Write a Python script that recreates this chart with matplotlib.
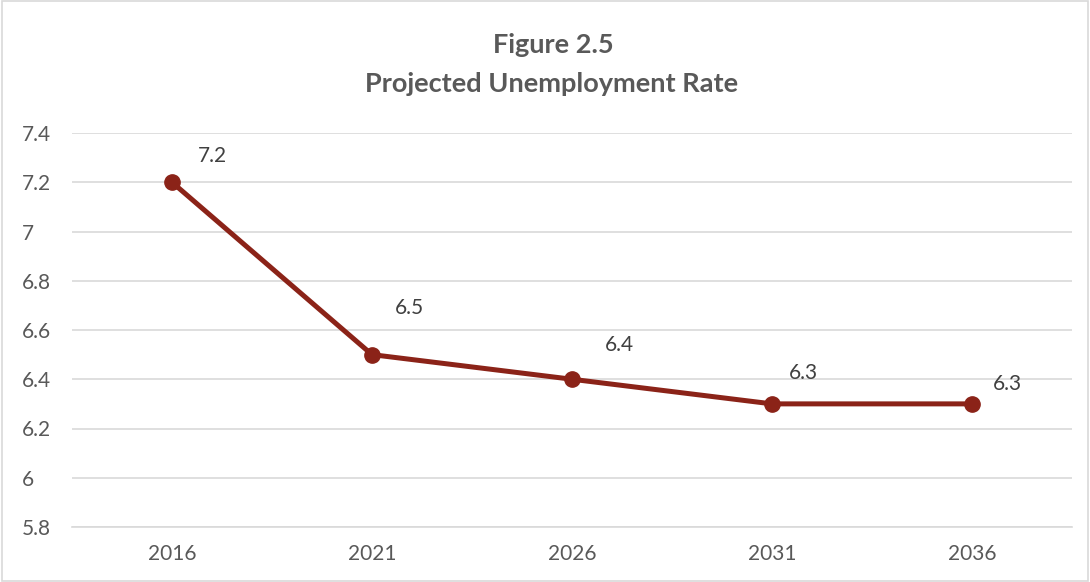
import matplotlib
matplotlib.use("Agg")
import matplotlib.pyplot as plt
from matplotlib.patches import Rectangle

years = ["2016", "2021", "2026", "2031", "2036"]
rates = [7.2, 6.5, 6.4, 6.3, 6.3]
y_ticks = [5.8, 6.0, 6.2, 6.4, 6.6, 6.8, 7.0, 7.2, 7.4]
y_tick_labels = ["5.8", "6", "6.2", "6.4", "6.6", "6.8", "7", "7.2", "7.4"]
title_lines = ["Figure 2.5", "Projected Unemployment Rate"]

# label offsets in pixels (layout only)
label_offsets = [(40, 26), (37, 47), (47, 34), (31, 31), (35, 20)]

plt.rcParams['font.family'] = ['Lato', 'DejaVu Sans']
text_color = "#595959"
line_color = "#8B2318"
grid_color = "#D9D9D9"

fig = plt.figure(figsize=(10.9, 5.82), dpi=100)
ax = fig.add_axes([72/1090, 1-527/582, 1000/1090, (527-133)/582])

x = list(range(len(years)))
ax.plot(x, rates, color=line_color, linewidth=3.6, marker='o', markersize=11,
        solid_capstyle='round', zorder=3)

for xi, v, (dx, dy) in zip(x, rates, label_offsets):
    ax.annotate(f"{v}", (xi, v), xytext=(dx*0.72, dy*0.72), textcoords='offset points',
                ha='center', va='center', fontsize=15, color="#404040")

ax.set_xlim(-0.5, len(years)-0.5)
ax.set_ylim(5.8, 7.4)
ax.set_yticks(y_ticks)
ax.set_yticklabels(y_tick_labels)
ax.set_xticks(x)
ax.set_xticklabels(years)
ax.tick_params(axis='both', length=0, labelsize=15, labelcolor=text_color)
ax.tick_params(axis='x', pad=12)
for lab in ax.get_yticklabels():
    lab.set_horizontalalignment('left')
ax.tick_params(axis='y', pad=36)

ax.grid(axis='y', color=grid_color, linewidth=1.2)
ax.set_axisbelow(True)
for s in ['top', 'right', 'left']:
    ax.spines[s].set_visible(False)
ax.spines['bottom'].set_color(grid_color)
ax.spines['bottom'].set_linewidth(1.2)

fig.text(553/1090, 1-45/582, title_lines[0], ha='center', va='center',
         fontsize=19.5, fontweight='bold', color=text_color)
fig.text(552/1090, 1-84/582, title_lines[1], ha='center', va='center',
         fontsize=19.5, fontweight='bold', color=text_color)

fig.patches.append(Rectangle((0.002, 0.002), 0.996, 0.996, transform=fig.transFigure,
                             fill=False, edgecolor="#D9D9D9", linewidth=1.2))

fig.savefig("out.png", dpi=100, facecolor='white')
